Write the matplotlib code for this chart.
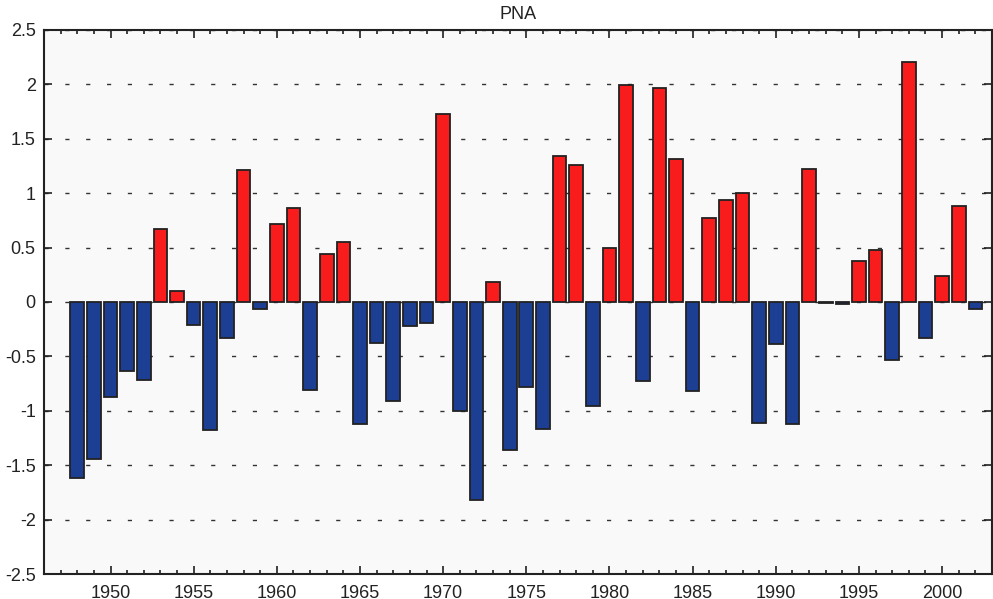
import numpy as np
import matplotlib
matplotlib.use('Agg')
import matplotlib.pyplot as plt
from matplotlib.ticker import MultipleLocator

# PNA index by year
years = list(range(1948, 2003))
pna = [-1.62, -1.44, -0.87, -0.63, -0.72, 0.67, 0.10, -0.21, -1.18, -0.33,
       1.21, -0.06, 0.72, 0.86, -0.81, 0.44, 0.55, -1.12, -0.38, -0.91,
       -0.22, -0.19, 1.73, -1.00, -1.82, 0.18, -1.36, -0.78, -1.17, 1.34,
       1.26, -0.96, 0.50, 1.99, -0.73, 1.97, 1.31, -0.82, 0.77, 0.94,
       1.00, -1.11, -0.39, -1.12, 1.22, -0.01, -0.02, 0.38, 0.48, -0.53,
       2.21, -0.33, 0.24, 0.88, -0.06]
ytick_labels = ['-2.5', '-2', '-1.5', '-1', '-0.5', '0', '0.5', '1', '1.5', '2', '2.5']

plt.rcParams['font.family'] = ['Liberation Sans', 'DejaVu Sans']

fig = plt.figure(figsize=(9.93, 5.99), dpi=100)
fig.patch.set_facecolor('white')
ax = fig.add_axes([0.0443, 0.0417, 0.9547, 0.9083])
ax.set_facecolor('#f9f9f9')

vals = np.array(pna)
colors = np.where(vals >= 0, '#f81c1c', '#1c3f94')
ax.bar(years, vals, width=0.82, color=colors, edgecolor='#222222',
       linewidth=1.3, zorder=3)

ax.set_xlim(1946, 2003)
ax.set_ylim(-2.5, 2.5)
ax.xaxis.set_major_locator(MultipleLocator(5))
ax.xaxis.set_minor_locator(MultipleLocator(1))
ax.set_yticks(np.arange(-2.5, 2.51, 0.5))
ax.set_yticklabels(ytick_labels)

ax.yaxis.grid(True, color='#333333', linestyle=(0, (3, 12)), linewidth=1, zorder=1)
ax.tick_params(which='both', direction='in', top=True, right=True,
               labelsize=13, colors='#222222', width=1.2)
ax.tick_params(which='major', length=6, pad=6)
ax.tick_params(axis='x', which='major', pad=8)
ax.tick_params(which='minor', length=3)
for s in ax.spines.values():
    s.set_linewidth(1.5)
    s.set_color('#222222')

ax.set_title('PNA', fontsize=13, pad=8, color='#222222')

fig.savefig('out.png', dpi=100, facecolor='white')
